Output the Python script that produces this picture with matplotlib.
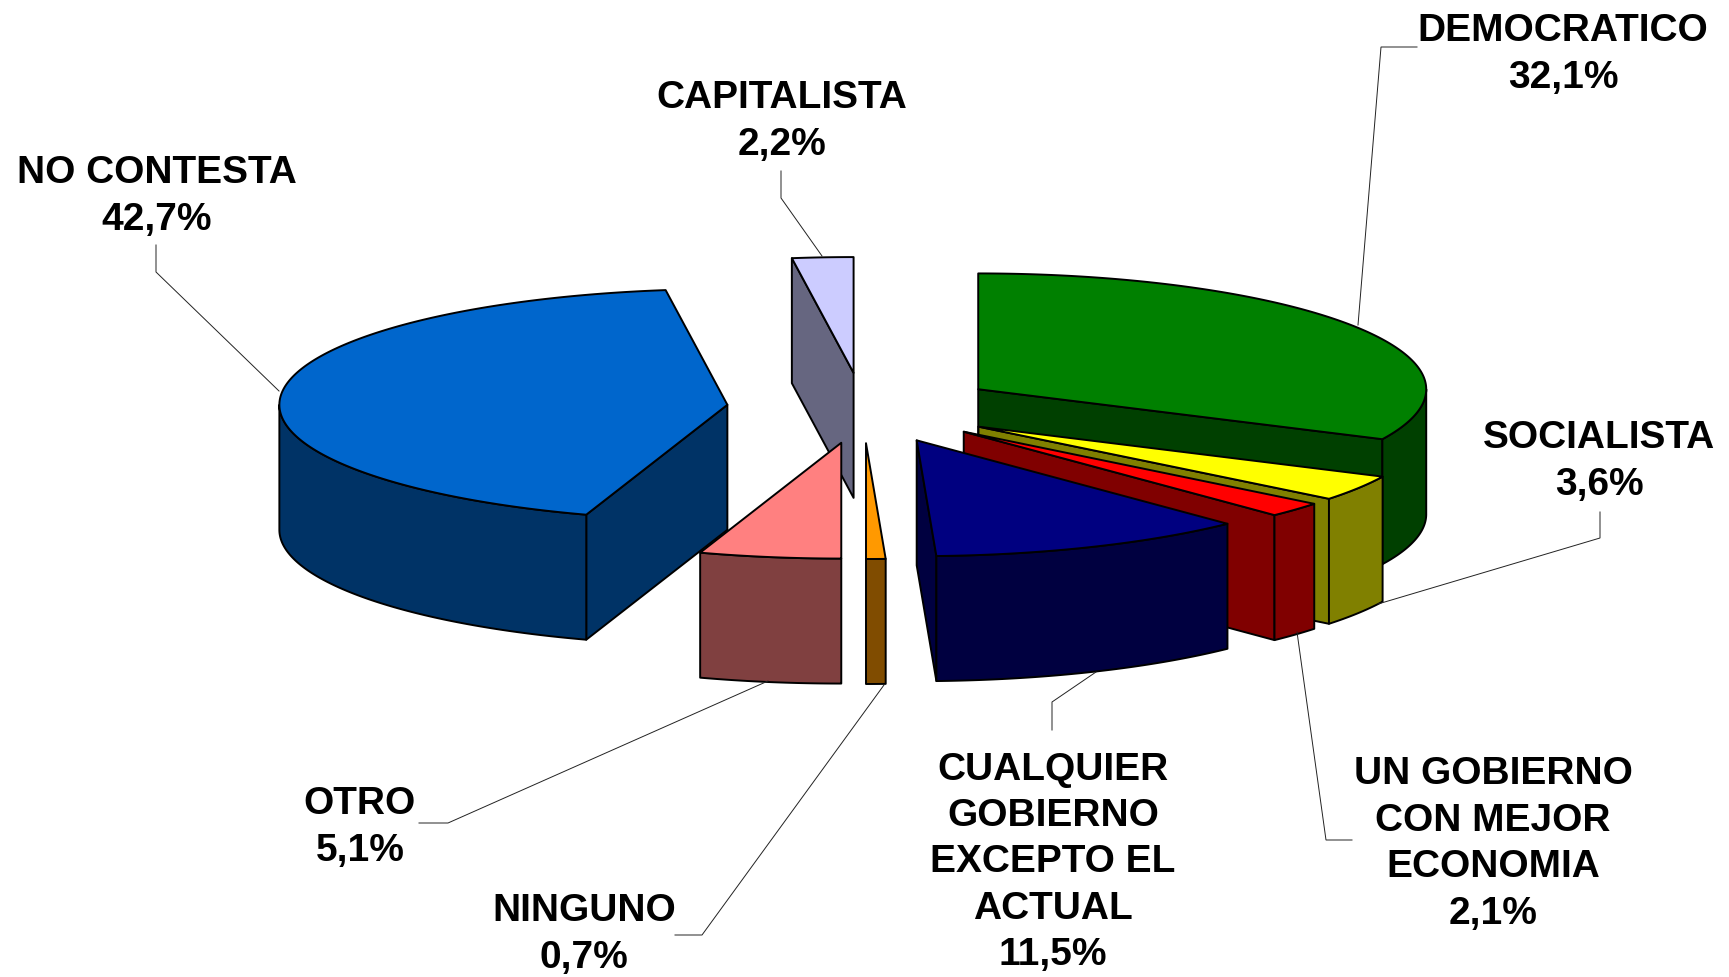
import numpy as np
import matplotlib
matplotlib.use("Agg")
import matplotlib.pyplot as plt
from matplotlib.patches import Polygon

categories = ["DEMOCRATICO", "SOCIALISTA", "UN GOBIERNO\nCON MEJOR\nECONOMIA",
              "CUALQUIER\nGOBIERNO\nEXCEPTO EL\nACTUAL", "NINGUNO", "OTRO",
              "NO CONTESTA", "CAPITALISTA"]
values = [32.1, 3.6, 2.1, 11.5, 0.7, 5.1, 42.7, 2.2]
value_labels = ["32,1%", "3,6%", "2,1%", "11,5%", "0,7%", "5,1%", "42,7%", "2,2%"]
top_colors = ["#008000", "#FFFF00", "#FF0000", "#000080", "#FF9900", "#FF8080", "#0066CC", "#CCCCFF"]
side_colors = ["#004000", "#808000", "#800000", "#000040", "#804C00", "#804040", "#003366", "#666680"]

# back-to-front painting order (indices into the series above)
draw_order = [7, 0, 6, 1, 2, 5, 4, 3]

# projection of the 3D pie, in pixels
CX, CY = 863.0, 408.0
RX, RY = 448.0, 115.8
DEPTH = 125.0
EXPLODE = 0.304
EDGE = 1.4

label_pos = [(1563, 54.5), (1599, 461.5), (1493, 844), (1053, 862.5), (584, 934.5), (360, 827.5), (157, 196.5), (782, 121.5)]
leaders = [
    [(1417, 47), (1381, 47), (1358, 325)],
    [(1600, 512), (1600, 538), (1378, 604)],
    [(1352, 840), (1326, 840), (1297, 632)],
    [(1052, 730), (1052, 702), (1096, 672)],
    [(675, 935), (702, 935), (884, 685)],
    [(419, 823), (448, 823), (768, 681)],
    [(156, 245), (156, 272), (279, 391)],
    [(781, 171), (781, 198), (822, 256)],
]

fig = plt.figure(figsize=(17.29, 9.77), dpi=100)
ax = fig.add_axes([0, 0, 1, 1])
ax.set_xlim(0, 1729)
ax.set_ylim(977, 0)
ax.axis("off")


def rim(theta, ax0, ay0):
    return np.column_stack([ax0 + RX * np.sin(theta), ay0 - RY * np.cos(theta)])


def poly(pts, color, z):
    ax.add_patch(Polygon(pts, closed=True, facecolor=color, edgecolor="black",
                         linewidth=EDGE, joinstyle="round", zorder=z))


fractions = np.array(values) / np.sum(values)
ends = np.cumsum(fractions) * 2 * np.pi
starts = ends - fractions * 2 * np.pi
down = np.array([0, DEPTH])

z = 2
for i in draw_order:
    t0, t1 = starts[i], ends[i]
    mid = (t0 + t1) / 2
    apex = np.array([CX + EXPLODE * RX * np.sin(mid), CY - EXPLODE * RY * np.cos(mid)])
    theta = np.linspace(t0, t1, 200)
    arc = rim(theta, *apex)
    # cut face that looks toward the viewer
    if np.sin(t0) < -1e-6:
        p = rim(np.array([t0]), *apex)[0]
        poly([apex, p, p + down, apex + down], side_colors[i], z); z += 1
    if np.sin(t1) > 1e-6:
        p = rim(np.array([t1]), *apex)[0]
        poly([apex, p, p + down, apex + down], side_colors[i], z); z += 1
    # outer wall, front half only
    lo, hi = max(t0, np.pi / 2), min(t1, 3 * np.pi / 2)
    if hi > lo:
        wall = rim(np.linspace(lo, hi, 200), *apex)
        poly(np.vstack([wall, (wall + down)[::-1]]), side_colors[i], z); z += 1
    poly(np.vstack([apex, arc]), top_colors[i], z); z += 1

for pts in leaders:
    xs, ys = zip(*pts)
    ax.plot(xs, ys, color="#222222", lw=0.7, zorder=z + 1, solid_joinstyle="miter")

for name, val, (x, y) in zip(categories, value_labels, label_pos):
    ax.text(x, y, f"{name}\n{val}", ha="center", va="center", ma="center",
            family="Liberation Sans", weight="bold", fontsize=28, linespacing=1.37,
            color="black", zorder=z + 2)

fig.savefig("out.png", dpi=100, facecolor="white")
